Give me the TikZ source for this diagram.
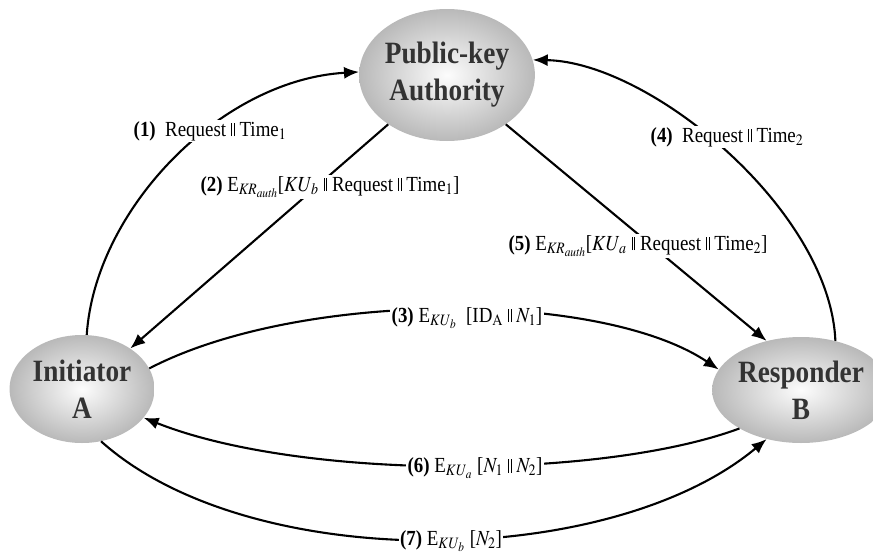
\documentclass[tikz,border=0pt]{standalone}
\usepackage{mathptmx}
\usepackage{graphicx}
\usepackage[no-math]{fontspec}
\setmainfont{Liberation Serif}
\newfontfamily\ballfont[FakeStretch=0.88]{Liberation Serif}
\usetikzlibrary{shapes.geometric,arrows.meta}
\newcommand{\dbar}{\kern.5pt\vrule height .62em depth 0pt width .75pt\kern2pt\vrule height .62em depth 0pt width .75pt\kern.5pt}
\newcommand{\lbltext}[1]{\scalebox{.88}[1]{#1}}
\begin{document}
\begin{tikzpicture}[x=1pt,y=-1pt,
  ball/.style={ellipse, shading=radial, inner color=gray!2, outer color=gray!55, draw=none,
    inner sep=0pt, font=\fontsize{31}{37}\ballfont\bfseries, text=black!80, align=center},
  arr/.style={line width=2.1pt, -{Latex[length=15pt,width=12pt]}},
  lbl/.style={fill=white, inner sep=1.5pt, font=\fontsize{21.5}{24}\selectfont}]
\useasboundingbox (0,0) rectangle (873,557);
\node[ball, minimum width=148pt, minimum height=132pt] (auth) at (447,75) {Public-key\\Authority};
\node[ball, minimum width=145pt, minimum height=108pt] (init) at (82,389) {Initiator\\A};
\node[ball, minimum width=138pt, minimum height=106pt] (resp) at (801,390) {Responder\\B};

\draw[arr] (init.85) .. controls (95,210) and (220,80) .. (auth.178);
\draw[arr] (auth.220) -- (init.40);
\draw[arr] (init.17) .. controls (300,290) and (600,290) .. (resp.166);
\draw[arr] (resp.55) .. controls (830,210) and (650,62) .. (auth.10);
\draw[arr] (auth.-40) -- (resp.125);
\draw[arr] (resp.212) .. controls (600,480) and (300,480) .. (init.-25);
\draw[arr] (init.-70) .. controls (250,575) and (610,570) .. (resp.235);

\node[lbl] (l1) at (210,131) {\lbltext{\textbf{(1)}\ \ Request \dbar{} Time$_1$}};
\node[lbl] (l2) at (330,187) {\lbltext{\textbf{(2)} E$_{\mathit{KR}_{\mathit{auth}}}$[$\mathit{KU}_b$ \dbar{} Request \dbar{} Time$_1$]}};
\node[lbl] (l3) at (467,318) {\lbltext{\textbf{(3)} E$_{\mathit{KU}_b}$\ \ [ID$_{\mathrm{A}}$ \dbar{} $N_1$]}};
\node[lbl] (l4) at (727,137) {\lbltext{\textbf{(4)}\ \ Request \dbar{} Time$_2$}};
\node[lbl] (l5) at (638,246) {\lbltext{\textbf{(5)} E$_{\mathit{KR}_{\mathit{auth}}}$[$\mathit{KU}_a$ \dbar{} Request \dbar{} Time$_2$]}};
\node[lbl] (l6) at (475,468) {\lbltext{\textbf{(6)} E$_{\mathit{KU}_a}$ [$N_1$ \dbar{} $N_2$]}};
\node[lbl] (l7) at (451,541) {\lbltext{\textbf{(7)} E$_{\mathit{KU}_b}$ [$N_2$]}};
\end{tikzpicture}
\end{document}
